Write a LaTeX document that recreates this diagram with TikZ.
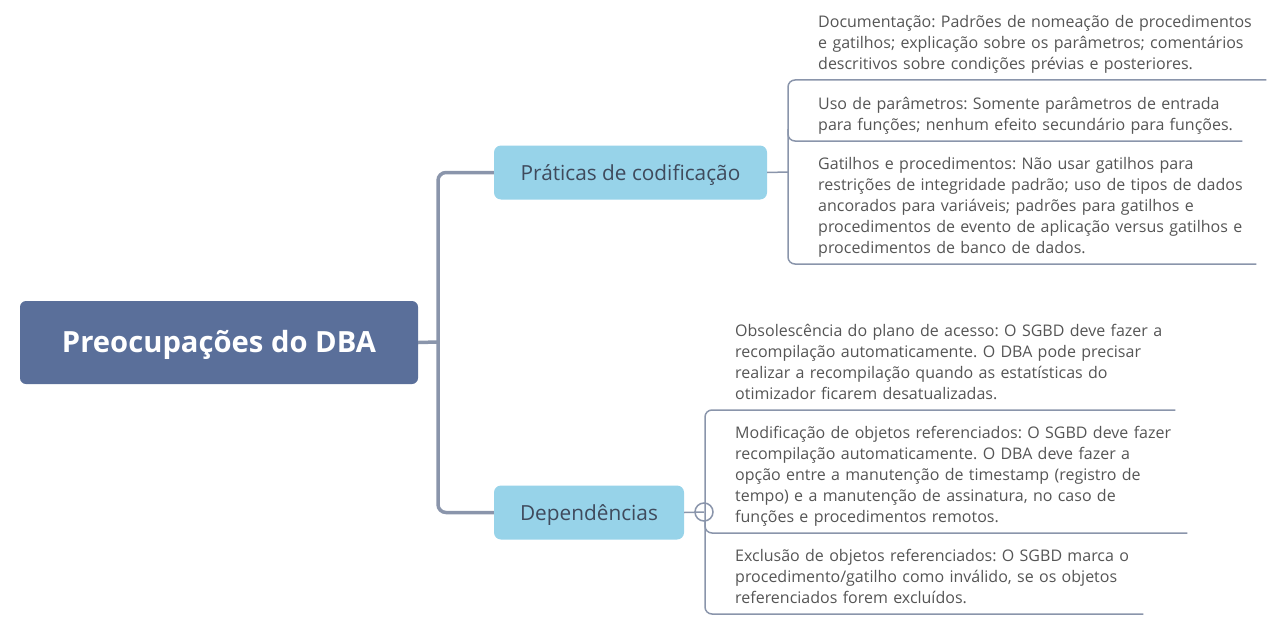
\documentclass[tikz,border=0pt]{standalone}
\usepackage{fontspec}
\setmainfont{Open Sans}
\usepackage{tikz}
\usetikzlibrary{positioning}
\frenchspacing

\definecolor{rootblue}{HTML}{5A6F9A}
\definecolor{subblue}{HTML}{97D3E9}
\definecolor{linegray}{HTML}{8A95AB}
\definecolor{leaftext}{HTML}{555555}
\definecolor{subtext}{HTML}{3F4A5C}

\tikzset{
  rootnode/.style={rectangle,rounded corners=6pt,fill=rootblue,text=white,
    minimum width=398pt,minimum height=83pt,inner sep=0pt,text height=26pt,text depth=7pt,
    font=\bfseries\fontsize{29.2}{34}\selectfont},
  subnode/.style={rectangle,rounded corners=7pt,fill=subblue,text=subtext,
    minimum height=54pt,inner sep=0pt,text height=21pt,text depth=5pt,
    font=\fontsize{20.8}{25}\selectfont},
  leaf/.style={anchor=south west,inner xsep=0pt,inner ysep=3.8pt,align=left,
    text=leaftext,font=\fontsize{16}{21}\selectfont,execute at end node=\strut},
  trunk/.style={draw=linegray,line width=3.5pt,rounded corners=8pt},
  twig/.style={draw=linegray,line width=1.5pt,rounded corners=7pt},
}

\begin{document}
\begin{tikzpicture}[x=1pt,y=-1pt]

\useasboundingbox (0,0) rectangle (1286,634);

\node[rootnode] (root) at (219,342.5) {Preocupações do DBA};

\node[subnode,minimum width=273pt] (prat) at (630.5,172.5) {Práticas de codificação};
\node[subnode,minimum width=190pt] (dep) at (589,512.5) {Dependências};

\coordinate (hub) at (438,342);
\draw[trunk] (root.east) -- (hub);
\draw[trunk] (hub) |- (prat.west);
\draw[trunk] (hub) |- (dep.west);

% praticas
\node[leaf,text width=448pt] (doc) at (818,80) {Documentação: Padrões de nomeação de procedimentos\\e gatilhos; explicação sobre os parâmetros; comentários\\descritivos sobre condições prévias e posteriores.};
\node[leaf,text width=424pt] (uso) at (818,141) {Uso de parâmetros: Somente parâmetros de entrada\\para funções; nenhum efeito secundário para funções.};
\node[leaf,text width=438pt] (gat) at (818,264) {Gatilhos e procedimentos: Não usar gatilhos para\\restrições de integridade padrão; uso de tipos de dados\\ancorados para variáveis; padrões para gatilhos e\\procedimentos de evento de aplicação versus gatilhos e\\procedimentos de banco de dados.};

\coordinate (pj) at (788,172);
\draw[twig] (prat.east) -- (pj);
\draw[twig] (doc.south east) -- ([xshift=-30pt]doc.south west) -- ([xshift=-30pt]gat.south west) -- (gat.south east);
\draw[twig] ([xshift=-30pt,yshift=12pt]uso.south west) |- (uso.south east);

% dependencias
\node[leaf,text width=440pt] (obs) at (735,410) {Obsolescência do plano de acesso: O SGBD deve fazer a\\recompilação automaticamente. O DBA pode precisar\\realizar a recompilação quando as estatísticas do\\otimizador ficarem desatualizadas.};
\node[leaf,text width=452pt] (mod) at (735,533) {Modificação de objetos referenciados: O SGBD deve fazer\\recompilação automaticamente. O DBA deve fazer a\\opção entre a manutenção de timestamp (registro de\\tempo) e a manutenção de assinatura, no caso de\\funções e procedimentos remotos.};
\node[leaf,text width=408pt] (exc) at (735,614) {Exclusão de objetos referenciados: O SGBD marca o\\procedimento/gatilho como inválido, se os objetos\\referenciados forem excluídos.};

\coordinate (dj) at (704,512);
\draw[twig] (dep.east) -- (dj);
\draw[twig] (dj) circle (9pt);
\draw[twig] (obs.south east) -- ([xshift=-30pt]obs.south west) -- ([xshift=-30pt]exc.south west) -- (exc.south east);
\draw[twig] ([xshift=-30pt,yshift=12pt]mod.south west) |- (mod.south east);

\end{tikzpicture}
\end{document}
